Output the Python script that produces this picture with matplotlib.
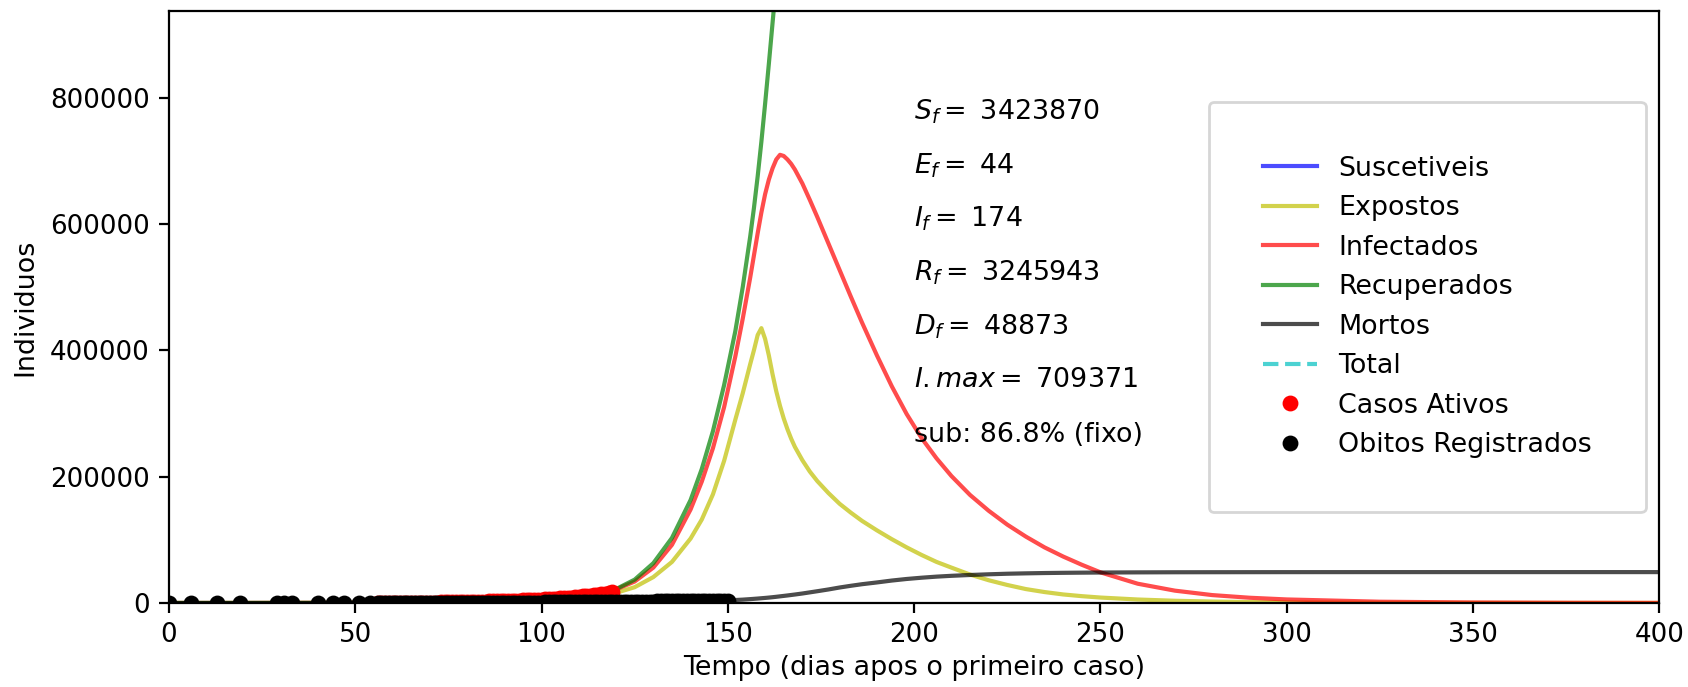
import matplotlib
matplotlib.use("Agg")
import matplotlib.pyplot as plt

# ---------------- data ----------------
days_model = [0, 20, 40, 60, 80, 90, 100, 105, 110, 115,
              120, 125, 130, 135, 140, 143, 146, 149, 152, 154,
              156, 157, 158, 159, 160, 161, 162, 163, 164, 165,
              166, 167, 168, 170, 172, 174, 177, 180, 183, 186,
              190, 194, 198, 202, 206, 210, 215, 220, 225, 230,
              235, 240, 245, 250, 260, 270, 280, 290, 300, 325,
              350, 375, 400]

suscetiveis = [6718900, 6718870, 6718640, 6717850, 6713500, 6710000, 6703000, 6698000, 6690000, 6678000,
               6657000, 6620000, 6557000, 6456000, 6302000, 6180000, 6030000, 5850000, 5620000, 5440000,
               5245000, 5140000, 5035000, 4940000, 4860000, 4790000, 4725000, 4665000, 4610000, 4560000,
               4512000, 4467000, 4425000, 4345000, 4275000, 4210000, 4120000, 4035000, 3955000, 3880000,
               3790000, 3710000, 3640000, 3585000, 3540000, 3505000, 3475000, 3455000, 3442000, 3435000,
               3430000, 3427500, 3426000, 3425200, 3424600, 3424300, 3424100, 3424000, 3423950, 3423910,
               3423890, 3423878, 3423870]

expostos = [0, 20, 150, 500, 1300, 2200, 4000, 5500, 7800, 11000,
            16000, 25000, 41000, 65000, 102000, 132000, 172000, 225000, 290000, 332000,
            378000, 400000, 424000, 435000, 418000, 392000, 362000, 335000, 312000, 292000,
            275000, 260000, 247000, 226000, 208000, 193000, 174000, 157000, 143000, 130000,
            115000, 101000, 88000, 76000, 65000, 56000, 45000, 36000, 28500, 22000,
            17300, 13500, 10800, 8600, 5500, 3500, 2250, 1450, 950, 330,
            140, 75, 44]

infectados = [2, 30, 200, 700, 1800, 3100, 5600, 7600, 10600, 15000,
              21500, 34000, 56000, 92000, 148000, 192000, 245000, 310000, 390000, 450000,
              515000, 550000, 585000, 618000, 647000, 670000, 688000, 702000, 709371, 707500,
              702000, 695000, 686000, 664000, 638000, 611000, 569000, 527000, 485000, 444000,
              392000, 343000, 299000, 261000, 229000, 201000, 171000, 146000, 124000, 105000,
              88000, 73500, 60500, 48500, 30500, 19500, 12500, 8300, 5600, 2000,
              800, 350, 174]

recuperados = [0, 10, 100, 400, 1200, 2200, 4200, 6000, 9000, 14000,
               22000, 37000, 63000, 103000, 163000, 212000, 272000, 345000, 430000, 500000,
               580000, 625000, 675000, 730000, 790000, 853000, 918000, 983000, 1045000, 1105000,
               1165000, 1225000, 1285000, 1400000, 1515000, 1630000, 1790000, 1940000, 2080000, 2210000,
               2360000, 2480000, 2600000, 2690000, 2770000, 2840000, 2910000, 2970000, 3020000, 3060000,
               3095000, 3120000, 3142000, 3160000, 3190000, 3210000, 3222000, 3230000, 3236000, 3242000,
               3244500, 3245500, 3245943]

mortos = [0, 1, 10, 50, 200, 350, 600, 800, 1050, 1350,
          1700, 2100, 2500, 2900, 3300, 3550, 3800, 4100, 4700, 5300,
          6100, 6550, 7000, 7500, 8000, 8550, 9150, 9800, 10500, 11200,
          11900, 12650, 13400, 15000, 16800, 18600, 21400, 24500, 27200, 29700,
          32500, 35500, 38000, 40000, 41700, 43000, 44300, 45400, 46300, 46900,
          47400, 47750, 48000, 48200, 48450, 48620, 48700, 48760, 48800, 48845,
          48862, 48869, 48873]

days_total = [0, 400]
total = [6718904, 6718904]

days_casos = list(range(56, 120))
casos_ativos = [30, 45, 60, 80, 105, 130, 160, 195, 235, 280,
                330, 385, 445, 510, 580, 655, 735, 820, 910, 1005,
                1105, 1210, 1320, 1435, 1555, 1680, 1810, 1945, 2085, 2230,
                2380, 2535, 2700, 2870, 3050, 3240, 3440, 3650, 3870, 4100,
                4340, 4590, 4860, 5140, 5440, 5760, 6100, 6460, 6840, 7250,
                7690, 8160, 8660, 9190, 9760, 10370, 11020, 11710, 12440, 13220,
                14050, 14930, 15860, 16840]

days_obitos = [0, 6, 13, 19, 29, 31, 33, 40, 44, 47, 51, 54] + list(range(56, 151))
obitos = [0, 0, 0, 0, 0, 0, 1, 1, 1, 1, 2, 2,
          2, 4, 6, 9, 12, 15, 19, 23, 28, 33,
          39, 45, 52, 60, 69, 78, 88, 99, 111, 123,
          136, 150, 165, 181, 198, 216, 235, 255, 276, 298,
          321, 345, 370, 396, 423, 451, 480, 510, 541, 573,
          606, 640, 675, 711, 748, 786, 825, 865, 906, 948,
          991, 1035, 1080, 1126, 1173, 1221, 1270, 1320, 1371, 1423,
          1476, 1530, 1585, 1641, 1698, 1756, 1815, 1875, 1936, 1998,
          2061, 2125, 2190, 2256, 2323, 2391, 2460, 2530, 2601, 2673,
          2746, 2820, 2895, 2971, 3048, 3126, 3205, 3285, 3366, 3448,
          3531, 3615, 3700, 3786, 3873]

final_texts = [r"$S_f = $ 3423870", r"$E_f = $ 44", r"$I_f = $ 174",
               r"$R_f = $ 3245943", r"$D_f = $ 48873", r"$I.max = $ 709371",
               "sub: 86.8% (fixo)"]
text_y = [777000, 692000, 608000, 523000, 438000, 353000, 266000]

# ---------------- figure ----------------
fig = plt.figure(figsize=(8.44, 3.435), dpi=200)
ax = fig.add_axes([0.1001, 0.1223, 0.8829, 0.8617])

lw = 1.5
ax.plot(days_model, suscetiveis, 'b', alpha=0.7, lw=lw, label='Suscetiveis')
ax.plot(days_model, expostos, 'y', alpha=0.7, lw=lw, label='Expostos')
ax.plot(days_model, infectados, 'r', alpha=0.7, lw=lw, label='Infectados')
ax.plot(days_model, recuperados, 'g', alpha=0.7, lw=lw, label='Recuperados')
ax.plot(days_model, mortos, 'k', alpha=0.7, lw=lw, label='Mortos')
ax.plot(days_total, total, 'c--', alpha=0.7, lw=lw, label='Total')
ax.plot(days_casos, casos_ativos, 'ro', ms=4.7, label='Casos Ativos')
ax.plot(days_obitos, obitos, 'ko', ms=4.7, label='Obitos Registrados')

for s, yv in zip(final_texts, text_y):
    ax.text(200, yv, s, fontsize=9.7, va='center', ha='left')

ax.set_xlim(0, 400)
ax.set_ylim(0, 937000)
ax.set_xticks(range(0, 401, 50))
ax.set_yticks([0, 200000, 400000, 600000, 800000])
ax.ticklabel_format(axis='y', style='plain')
ax.tick_params(labelsize=9.4)
ax.set_xlabel('Tempo (dias apos o primeiro caso)', fontsize=9.7, labelpad=2.5)
ax.set_ylabel('Individuos', fontsize=9.7)

ax.legend(loc='center right', borderpad=2.0, fontsize=9.7)

fig.savefig('out.png', dpi=200)
